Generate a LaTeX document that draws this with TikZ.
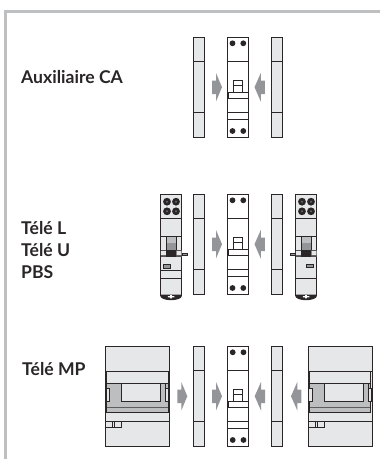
\documentclass[tikz,border=0pt]{standalone}
\usepackage{fontspec}
\setmainfont{Lato}
\definecolor{ink}{HTML}{2A2627}
\definecolor{lite}{HTML}{E6E7E8}
\definecolor{midg}{HTML}{BCBEC0}
\definecolor{arrowg}{HTML}{939598}
\definecolor{framec}{HTML}{BDBFC1}
\tikzset{
  ln/.style={draw=ink,line width=0.8pt},
  lbl/.style={anchor=base west,inner sep=0pt,font=\fontsize{17.6}{20}\selectfont\bfseries,text=ink},
  pics/sidepanel/.style={code={
    \path[ln,fill=lite] (0,0) rectangle (10.8,100.5);
    \draw[ln] (0,24.5) -- (10.8,24.5) (0,75.5) -- (10.8,75.5);
  }},
  pics/rarrow/.style={code={
    \fill[arrowg] (0,7.5) -- (4,7.5) -- (4,0) -- (10,14.2) -- (4,28.5) -- (4,21) -- (0,21) -- cycle;
  }},
  pics/larrow/.style={code={
    \fill[arrowg] (10.3,7.5) -- (6.3,7.5) -- (6.3,0) -- (0,14.2) -- (6.3,28.5) -- (6.3,21) -- (10.3,21) -- cycle;
  }},
  pics/breaker/.style={code={
    \path[ln,fill=white] (0,0) rectangle (21,100.5);
    \draw[ln] (0,24) -- (21,24) (0,75.5) -- (21,75.5) (0,82.5) -- (21,82.5);
    \path[ln,fill=white] (6,43) rectangle (15,55.3);
    \draw[ln,line width=0.5pt] (6,48) -- (15,48);
    \path[ln,fill=white] (0.5,55.3) rectangle (20.5,61.5);
    \foreach \px in {5,15.8} {
      \fill[ink] (\px,6.3) circle (2.9);
      \fill[ink] (\px,94) circle (2.9);
    }
  }},
  pics/telemodule/.style={code={
    \path[ln,fill=lite] (0,0) rectangle (21.5,101);
    \fill[ink] (0,100.5) -- (21.5,100.5) -- (21.5,102) arc[start angle=0,end angle=180,x radius=10.75,y radius=4.2] -- cycle;
    \fill[white] (7.5,102.2) rectangle (14,103.4) (9.9,101.2) rectangle (11.6,104.4);
    \foreach \px in {6.7,15.7} \foreach \py in {7.7,17.3} {
      \fill[ink] (\px,\py) circle (3.9);
      \fill[arrowg!70!black] (\px,\py) circle (1.1);
    }
    \draw[ln] (0,24.3) -- (21.5,24.3) (0,42.7) -- (21.5,42.7) (0,84.3) -- (21.5,84.3);
    \path[ln,fill=white] (6,42.7) rectangle (16,56);
    \fill[midg] (6.5,43) rectangle (15.5,49);
    \fill[arrowg] (6.5,49) rectangle (15.5,56);
    \fill[ink!80] (0.2,56) rectangle (21.3,62.7);
    \fill[lite] (0.5,57) rectangle (5.6,61.2) (16.4,57) rectangle (21,61.2);
    \fill[ink] (6,56) rectangle (16,62.7);
  }},
  pics/bigmodule/.style={code={
    \path[ln,fill=lite] (0,0) rectangle (64,100.5);
    \draw[ln] (0,25) -- (64,25);
    \fill[midg] (1.3,37.3) rectangle (62.7,66.7);
    \path[ln,fill=lite] (16.3,37.3) -- (16.3,55.7) -- (55.3,55.7) -- (55.3,37.3);
    \draw[ln,draw=ink!75,line width=1.4pt] (1.3,61.3) -- (62.7,61.3);
    \fill[lite] (16.3,37.3) rectangle (55.3,55.4);
    \draw[ln] (16.3,37.3) -- (16.3,55.7) -- (55.3,55.7) -- (55.3,37.3);
    \draw[ln,line width=0.6pt] (60,37.3) -- (60,56) (1.3,25) -- (1.3,66.7) -- (62.7,66.7) -- (62.7,25);
    \draw[ln] (1.3,37.3) -- (62.7,37.3);
    \path[ln,fill=lite] (0.8,42) rectangle (4,55) (60,42) rectangle (63.2,55);
    \draw[ln] (0,75.3) -- (64,75.3);
    \path[ln,fill=lite] (0.5,75.3) rectangle (16.5,81.7);
    \draw[ln,line width=0.6pt] (7,75.3) -- (7,81.7) (9.4,75.3) -- (9.4,81.7);
  }}
}
\begin{document}
\begin{tikzpicture}[x=1pt,y=-1pt]
\useasboundingbox (0,0) rectangle (380,459);
\draw[framec,line width=3pt] (5.5,459) -- (5.5,11) -- (380,11);

% row 1
\pic at (193.2,37) {sidepanel};
\pic at (227.5,37) {breaker};
\pic at (271.7,37) {sidepanel};
\pic at (212,73) {rarrow};
\pic at (254.5,73) {larrow};
\node[lbl] (t1) at (21,83.3) {Auxiliaire CA};

% row 2
\pic at (160.3,194) {telemodule};
\fill[arrowg] (182,253) rectangle (187.5,255.6);
\draw[ln,line width=0.5pt] (182,253) rectangle (187.5,255.6);
\path[ln,fill=arrowg,line width=0.6pt] (163.3,264.7) rectangle (170.7,268.3);
\draw[ln] (160.3,270.6) -- (181.8,270.6);
\pic at (193.3,194) {sidepanel};
\pic at (227.5,194) {breaker};
\pic at (271.7,194) {sidepanel};
\pic at (295.3,194) {telemodule};
\fill[arrowg] (290,253) rectangle (295.3,255.6);
\draw[ln,line width=0.5pt] (290,253) rectangle (295.3,255.6);
\path[ln,fill=arrowg,line width=0.6pt] (306.7,264) rectangle (313.7,267.7);
\pic at (212,230) {rarrow};
\pic at (254.5,230) {larrow};
\node[lbl] (t2) at (21,234) {Télé L};
\node[lbl] (t3) at (21,256) {Télé U};
\node[lbl] (t4) at (21,278) {PBS};

% row 3
\pic at (105.3,346) {bigmodule};
\pic at (193.3,346) {sidepanel};
\pic at (227.7,346) {breaker};
\pic at (271.7,346) {sidepanel};
\pic at (308,346) {bigmodule};
\pic at (177.3,382) {rarrow};
\pic at (212,382) {rarrow};
\pic at (254.7,382) {larrow};
\pic at (291,382) {larrow};
\node[lbl] (t5) at (22,375) {Télé MP};
\end{tikzpicture}
\end{document}
